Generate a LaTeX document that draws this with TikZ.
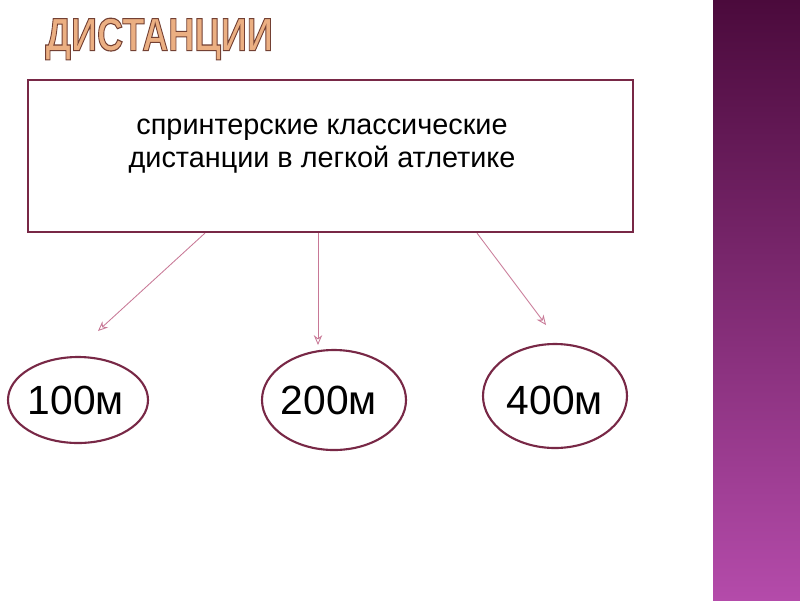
\documentclass[tikz,border=0pt]{standalone}
\usepackage{fontspec}
\setmainfont{Liberation Sans}
\usetikzlibrary{shapes.geometric,arrows.meta}
\definecolor{frame}{RGB}{120,40,70}
\definecolor{arr}{RGB}{200,120,150}
\definecolor{ttl}{RGB}{235,175,130}
\definecolor{bartop}{RGB}{75,10,60}
\definecolor{barbot}{RGB}{180,75,170}
\tikzset{
  box/.style={draw=frame,line width=1.5pt,minimum width=605*0.025cm,minimum height=152*0.025cm},
  oval/.style={ellipse,draw=frame,line width=1.5pt,inner sep=0pt},
  lbl/.style={font=\fontsize{29}{34}\selectfont},
  con/.style={draw=arr,line width=0.6pt,-{Stealth[length=7pt,width=6pt,open]}}
}
\begin{document}
\begin{tikzpicture}[x=0.025cm,y=-0.025cm]
\useasboundingbox (0,0) rectangle (800,600);
\fill[white] (0,0) rectangle (800,600);
\shade[top color=bartop,bottom color=barbot] (713,0) rectangle (800,600);
\node[anchor=west,font=\bfseries\fontsize{33}{36}\selectfont,text=ttl,inner sep=0pt] (title) at (45,39) {\scalebox{0.78}[1]{\special{pdf:code q 2 Tr 0.8 w 0.45 0.25 0.2 RG}ДИСТАНЦИИ\special{pdf:code Q}}};
\node[box] (b) at (330.5,156) {};
\node[align=center,font=\fontsize{20.5}{23.5}\selectfont] (bt) at (322,146) {спринтерские классические\\дистанции в легкой атлетике};
\node[oval,minimum width=140*0.025cm,minimum height=86*0.025cm] (e1) at (78,400) {};
\node[oval,minimum width=144*0.025cm,minimum height=100*0.025cm] (e2) at (334,400) {};
\node[oval,minimum width=144*0.025cm,minimum height=104*0.025cm] (e3) at (555,396) {};
\node[lbl] (l1) at (76,400) {100м};
\node[lbl] (l2) at (329,400) {200м};
\node[lbl] (l3) at (555,400) {400м};
\coordinate (t1) at (98,331);
\coordinate (t2) at (318,345);
\coordinate (t3) at (546,325);
\draw[con] (b.south -| 205,0) -- (t1);
\draw[con] (b.south -| 318,0) -- (t2);
\draw[con] (b.south -| 477,0) -- (t3);
\end{tikzpicture}
\end{document}
